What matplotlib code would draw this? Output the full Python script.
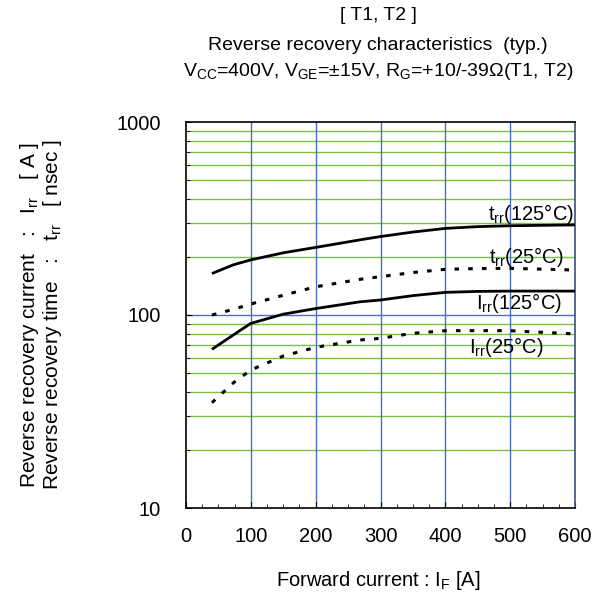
import numpy as np
import matplotlib; matplotlib.use('Agg')
import matplotlib.pyplot as plt
from matplotlib.ticker import FixedLocator, NullFormatter, MultipleLocator

plt.rcParams['font.family'] = 'Liberation Sans'
plt.rcParams['mathtext.fontset'] = 'custom'
plt.rcParams['mathtext.rm'] = 'Liberation Sans'

# ── Data ─────────────────────────────────────────────────────────
IF          = [40, 73, 100, 150, 200, 268, 300, 350, 400, 450, 500, 600]
trr_125     = [164, 182, 193, 210, 224, 245, 255, 269, 281, 287, 290, 293]
trr_25      = [100, 107, 114, 126.5, 140, 153, 158, 166, 172.5, 174, 174.5, 171]
Irr_125     = [66.4, 78.8, 90.5, 101, 108, 117, 119.6, 126, 131, 132.5, 133, 133]
Irr_25      = [35.1, 44.5, 51.9, 61.3, 68, 74.2, 75.7, 80.4, 82.9, 83, 82.9, 79.8]

labels      = [r'$\mathregular{t_{rr}}$(125°C)', r'$\mathregular{t_{rr}}$(25°C)',
               r'$\mathregular{I_{rr}}$(125°C)', r'$\mathregular{I_{rr}}$(25°C)']
label_pos   = [(598, 333), (582, 200), (580, 115), (552, 68)]

GREEN = '#7cc142'
BLUE  = '#4a6fbf'
FS = 14.5

fig = plt.figure(figsize=(6.03, 6.0), dpi=100)
ax = fig.add_axes([186/603, 1-508/600, (575-186)/603, (508-122)/600])

ax.set_yscale('log')
ax.set_xlim(0, 600)
ax.set_ylim(10, 1000)

minor_y = [v * d for d in (10, 100) for v in range(2, 10)]
for v in minor_y:
    ax.axhline(v, color=GREEN, lw=1.0, zorder=1)
ax.axhline(100, color=BLUE, lw=1.0, zorder=1)
for v in (100, 200, 300, 400, 500):
    ax.axvline(v, color=BLUE, lw=1.0, zorder=1)

ax.plot(IF, trr_125, color='black', lw=2, solid_capstyle='butt', zorder=3)
ax.plot(IF, trr_25, color='black', lw=2.2, ls=(0, (1.5, 3)), zorder=3)
ax.plot(IF, Irr_125, color='black', lw=2, solid_capstyle='butt', zorder=3)
ax.plot(IF, Irr_25, color='black', lw=2.2, ls=(0, (1.5, 3)), zorder=3)

for txt, (x, y) in zip(labels, label_pos):
    ax.text(x, y, txt, fontsize=FS, ha='right', va='center', zorder=4)

ax.yaxis.set_major_locator(FixedLocator([10, 100, 1000]))
ax.yaxis.set_minor_locator(FixedLocator(minor_y))
ax.yaxis.set_minor_formatter(NullFormatter())
ax.set_yticklabels(['10', '100', '1000'])
ax.xaxis.set_major_locator(MultipleLocator(100))
ax.xaxis.set_minor_locator(MultipleLocator(25))
ax.tick_params(which='both', direction='in', labelsize=FS)
ax.tick_params(which='major', length=4, pad=14)
ax.tick_params(which='minor', length=3)
ax.tick_params(axis='y', which='major', pad=18)
ax.spines['right'].set_color('#3a4f7a')
for s in ax.spines.values():
    s.set_linewidth(1.2)

fig.text(378/603, 1-16/600, '[ T1, T2 ]', fontsize=14, ha='center', va='center')
fig.text(378/603, 1-45/600, 'Reverse recovery characteristics  (typ.)', fontsize=14,
         ha='center', va='center')
fig.text(378/603, 1-72/600,
         r'V$\mathregular{_{CC}}$=400V, V$\mathregular{_{GE}}$=±15V, R$\mathregular{_{G}}$=+10/-39Ω(T1, T2)',
         fontsize=14, ha='center', va='center')
fig.text(378/603, 1-581/600, r'Forward current : I$\mathregular{_F}$ [A]', fontsize=FS,
         ha='center', va='center')
fig.text(30/603, 1-315/600, r'Reverse recovery current   :   I$\mathregular{_{rr}}$   [ A ]',
         fontsize=15, rotation=90, ha='center', va='center')
fig.text(53/603, 1-315/600, r'Reverse recovery time   :   t$\mathregular{_{rr}}$   [ nsec ]',
         fontsize=15, rotation=90, ha='center', va='center')

fig.savefig('out.png', dpi=100)
